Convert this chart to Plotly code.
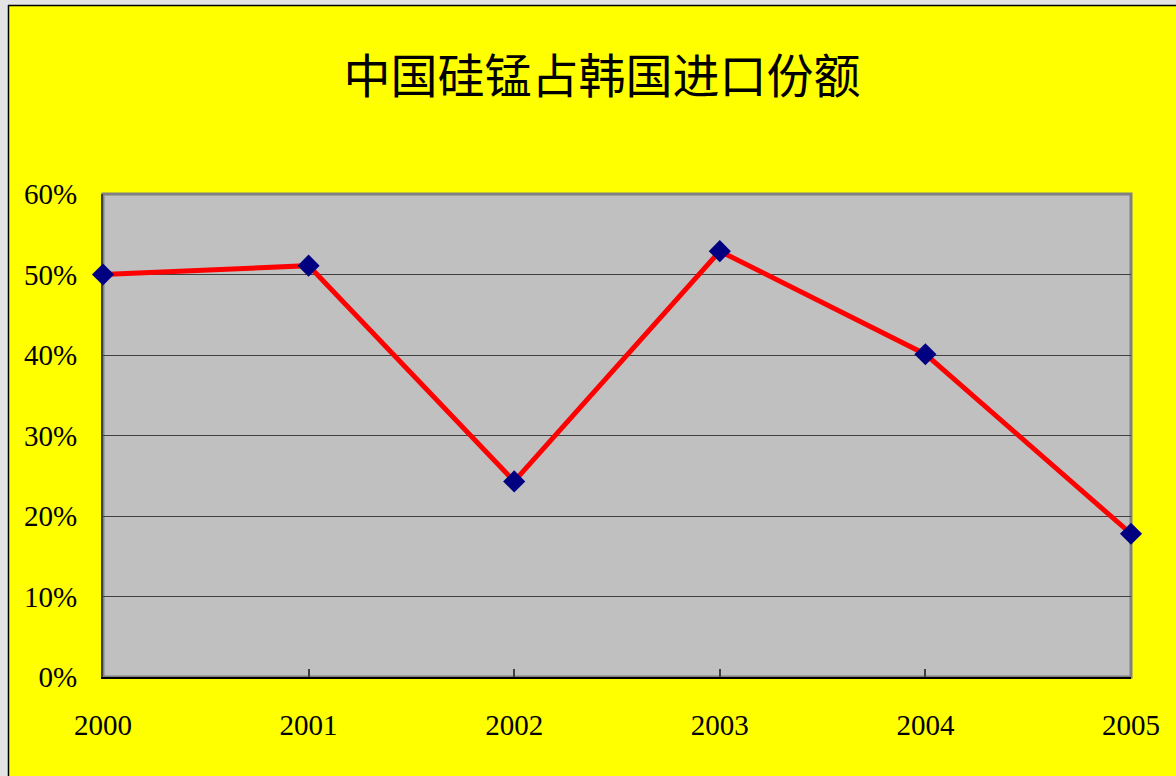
import plotly.graph_objects as go

years = [2000, 2001, 2002, 2003, 2004, 2005]
share = [0.50, 0.511, 0.243, 0.529, 0.401, 0.178]
year_labels = ["2000", "2001", "2002", "2003", "2004", "2005"]
y_ticks = [0, 0.1, 0.2, 0.3, 0.4, 0.5, 0.6]
y_labels = ["0%", "10%", "20%", "30%", "40%", "50%", "60%"]
title_text = "中国硅锰占韩国进口份额"

W, H = 1176, 776
L, R, T, B = 103, 1131, 194, 677


def px(x):
    return (x - L) / (R - L)


def py(y):
    return (B - y) / (B - T)


fig = go.Figure()
fig.add_trace(go.Scatter(
    x=years, y=share, mode="lines+markers",
    line=dict(color="#ff0000", width=5),
    marker=dict(symbol="diamond", size=17, color="#000080",
                line=dict(width=0)),
    cliponaxis=False, showlegend=False, hoverinfo="x+y",
))

num_font = dict(family="Liberation Serif, Noto Sans CJK SC, serif", size=29, color="#000000")

shapes = [
    # plot area outline (gray)
    dict(type="rect", xref="paper", yref="paper", x0=0, x1=1, y0=0, y1=1,
         line=dict(color="#808080", width=3), fillcolor="rgba(0,0,0,0)", layer="below"),
    # outer light gray strips
    dict(type="rect", xref="paper", yref="paper", x0=px(-20), x1=px(8), y0=py(800), y1=py(-20),
         line=dict(width=0), fillcolor="#e4e4e4", layer="above"),
    dict(type="rect", xref="paper", yref="paper", x0=px(-20), x1=px(1200), y0=py(5), y1=py(-20),
         line=dict(width=0), fillcolor="#e4e4e4", layer="above"),
    # black border lines
    dict(type="line", xref="paper", yref="paper", x0=px(8.5), x1=px(8.5), y0=py(800), y1=py(5),
         line=dict(color="#000000", width=1.5), layer="above"),
    dict(type="line", xref="paper", yref="paper", x0=px(8), x1=px(1200), y0=py(5.5), y1=py(5.5),
         line=dict(color="#000000", width=1.5), layer="above"),
]

fig.update_layout(
    width=W, height=H,
    margin=dict(l=L, r=W - R, t=T, b=H - B, pad=0),
    paper_bgcolor="#ffff00",
    plot_bgcolor="#c0c0c0",
    title=dict(text=title_text, x=602 / W, xanchor="center", xref="container",
               y=1 - 77 / H, yanchor="middle", yref="container",
               font=dict(family="Noto Sans CJK SC, serif", size=47, color="#000000")),
    xaxis=dict(range=[2000, 2005], tickvals=years, ticktext=year_labels,
               showgrid=False, zeroline=False, showline=True, linecolor="#000000",
               linewidth=2, ticks="inside", ticklen=8, tickwidth=2, tickcolor="#404040",
               tickfont=num_font, ticklabelstandoff=21, layer="below traces",
               fixedrange=True),
    yaxis=dict(range=[0, 0.6], tickvals=y_ticks, ticktext=y_labels,
               showgrid=True, gridcolor="#404040", gridwidth=1, zeroline=False,
               showline=True, linecolor="#404040", linewidth=2,
               ticks="inside", ticklen=5, tickwidth=1, tickcolor="#404040",
               tickfont=num_font, ticklabelstandoff=18, layer="below traces",
               fixedrange=True),
    shapes=shapes,
)

fig.write_html(
    "out.html",
    config={"displayModeBar": False},
    post_script="document.body.style.margin='0';document.body.style.overflow='hidden';"
                "document.body.style.background='#e4e4e4';",
)
